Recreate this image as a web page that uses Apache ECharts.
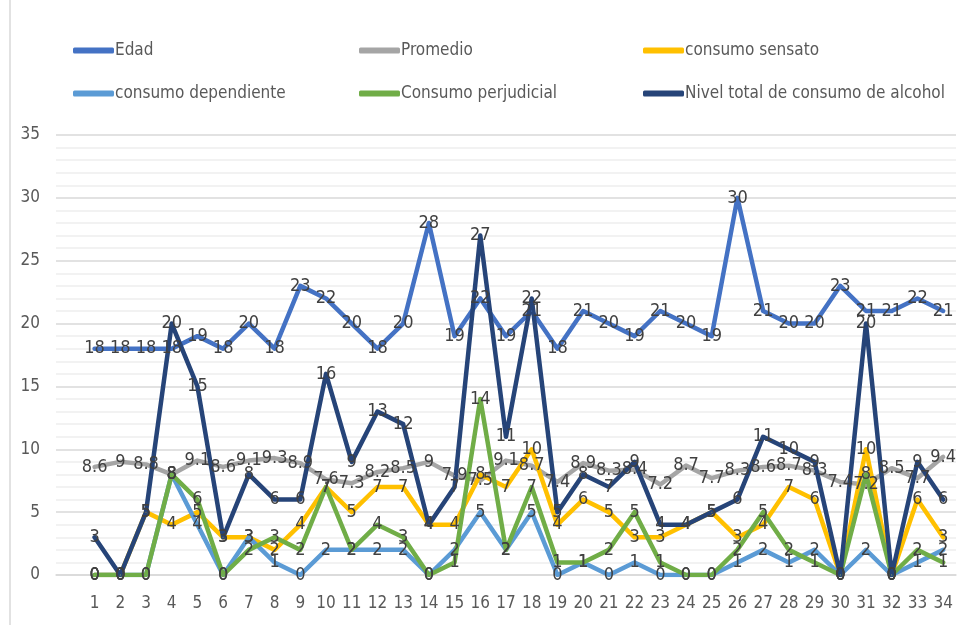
<!DOCTYPE html>
<html>
<head>
<meta charset="utf-8">
<script src="https://cdn.jsdelivr.net/npm/echarts@6/dist/echarts.min.js"></script>
<style>
  html, body { margin: 0; padding: 0; background: #fff; }
  #chart { width: 957px; height: 625px; }
</style>
</head>
<body>
<div id="chart"></div>
<script>
// participants 1..34
const categories = ['1','2','3','4','5','6','7','8','9','10','11','12','13','14','15','16','17',
  '18','19','20','21','22','23','24','25','26','27','28','29','30','31','32','33','34'];

const edad = [18,18,18,18,19,18,20,18,23,22,20,18,20,28,19,22,19,21,18,21,20,19,21,20,19,30,21,20,20,23,21,21,22,21];
const promedio = [8.6,9,8.8,8,9.1,8.6,9.1,9.3,8.9,7.6,7.3,8.2,8.5,9,7.9,7.5,9.1,8.7,7.4,8.9,8.3,8.4,7.2,8.7,7.7,8.3,8.6,8.7,8.3,7.4,7.2,8.5,7.7,9.4];
const sensato = [0,0,5,4,5,3,3,2,4,7,5,7,7,4,4,8,7,10,4,6,5,3,3,4,5,3,4,7,6,0,10,0,6,3];
const dependiente = [0,0,0,8,4,0,3,1,0,2,2,2,2,0,2,5,2,5,0,1,0,1,0,0,0,1,2,1,2,0,2,0,1,2];
const perjudicial = [0,0,0,8,6,0,2,3,2,7,2,4,3,0,1,14,2,7,1,1,2,5,1,0,0,2,5,2,1,0,8,0,2,1];
const nivelTotal = [3,0,5,20,15,3,8,6,6,16,9,13,12,4,7,27,11,22,5,8,7,9,4,4,5,6,11,10,9,0,20,0,9,6];

const FONT = "'Liberation Sans Narrow', 'DejaVu Sans Condensed', 'Liberation Sans', sans-serif";

const seriesDefs = [
  { name: 'Edad', data: edad, color: '#4472C4' },
  { name: 'Promedio', data: promedio, color: '#A5A5A5' },
  { name: 'consumo sensato', data: sensato, color: '#FFC000' },
  { name: 'consumo dependiente', data: dependiente, color: '#5B9BD5' },
  { name: 'Consumo perjudicial', data: perjudicial, color: '#70AD47' },
  { name: 'Nivel total de consumo de alcohol', data: nivelTotal, color: '#264478' }
];

// legend slots (2 rows x 3 columns)
const legendPos = [[68, 37], [354, 37], [638, 37], [68, 80], [354, 80], [638, 80]];

const chart = echarts.init(document.getElementById('chart'));

const option = {
  animation: false,
  backgroundColor: '#fff',
  textStyle: { fontFamily: FONT },
  legend: seriesDefs.map((s, i) => ({
    data: [s.name],
    left: legendPos[i][0],
    top: legendPos[i][1],
    icon: 'roundRect',
    itemWidth: 41,
    itemHeight: 6,
    textStyle: { color: '#595959', fontSize: 17, fontFamily: FONT, padding: [0, 0, 0, -4] }
  })),
  grid: { left: 56, right: 1, top: 135, bottom: 50 },
  xAxis: {
    type: 'category',
    // leading blank slot leaves room before category "1"
    data: [''].concat(categories),
    boundaryGap: true,
    axisLine: { show: true, lineStyle: { color: '#d9d9d9', width: 1.5 } },
    axisTick: { show: false },
    axisLabel: { color: '#595959', fontSize: 17, margin: 20, fontFamily: FONT, interval: 0 },
    splitLine: { show: false }
  },
  yAxis: {
    type: 'value',
    min: 0,
    max: 35,
    interval: 5,
    axisLine: { show: false },
    axisTick: { show: false },
    axisLabel: { color: '#595959', fontSize: 17, margin: 16, fontFamily: FONT },
    splitLine: { lineStyle: { color: '#d9d9d9', width: 1.5 } },
    minorTick: { show: false, splitNumber: 5 },
    minorSplitLine: { show: true, lineStyle: { color: '#eeeeee', width: 1.5 } }
  },
  graphic: [{
    type: 'line',
    shape: { x1: 10, y1: 0, x2: 10, y2: 625 },
    style: { stroke: '#d9d9d9', lineWidth: 1.5 }
  }],
  series: seriesDefs.map(s => ({
    name: s.name,
    type: 'line',
    data: [null].concat(s.data),
    color: s.color,
    symbol: 'circle',
    symbolSize: 1,
    lineStyle: { width: 4.5, color: s.color, cap: 'round', join: 'round' },
    itemStyle: { color: s.color },
    label: {
      show: true,
      position: 'inside',
      color: '#404040',
      fontSize: 18,
      fontFamily: FONT
    }
  }))
};

chart.setOption(option);
</script>
</body>
</html>
